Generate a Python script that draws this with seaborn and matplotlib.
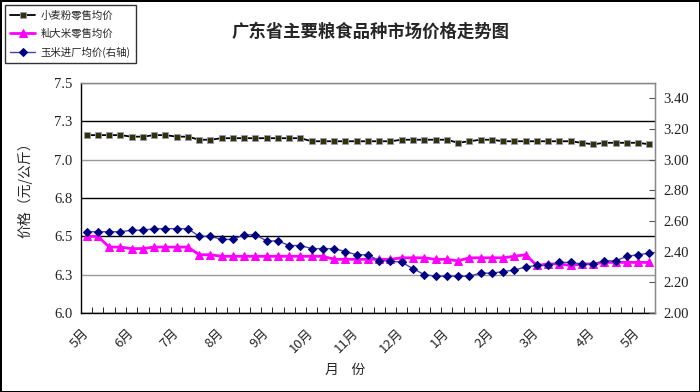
import matplotlib
matplotlib.use('Agg')
import numpy as np
import pandas as pd
import matplotlib.pyplot as plt
import seaborn as sns
from matplotlib.transforms import ScaledTranslation

# 周度价格数据（共51周）
weeks = list(range(51))
flour = [7.16, 7.16, 7.16, 7.16, 7.15, 7.15, 7.16, 7.16, 7.15, 7.15,
         7.13, 7.13, 7.14, 7.14, 7.14, 7.14, 7.14, 7.14, 7.14, 7.14,
         7.12, 7.12, 7.12, 7.12, 7.12, 7.12, 7.12, 7.12, 7.13, 7.13,
         7.13, 7.13, 7.13, 7.11, 7.12, 7.13, 7.13, 7.12, 7.12, 7.12,
         7.12, 7.12, 7.12, 7.12, 7.11, 7.10, 7.11, 7.11, 7.11, 7.11,
         7.10]
rice = [6.50, 6.50, 6.43, 6.43, 6.42, 6.42, 6.43, 6.43, 6.43, 6.43,
        6.38, 6.38, 6.37, 6.37, 6.37, 6.37, 6.37, 6.37, 6.37, 6.37,
        6.37, 6.37, 6.35, 6.35, 6.35, 6.35, 6.35, 6.35, 6.36, 6.36,
        6.36, 6.35, 6.35, 6.34, 6.36, 6.36, 6.36, 6.36, 6.37, 6.38,
        6.31, 6.32, 6.32, 6.31, 6.32, 6.32, 6.33, 6.33, 6.33, 6.33,
        6.33]
corn = [2.53, 2.53, 2.53, 2.53, 2.54, 2.54, 2.55, 2.55, 2.55, 2.55,
        2.50, 2.50, 2.48, 2.48, 2.51, 2.51, 2.47, 2.47, 2.44, 2.44,
        2.42, 2.42, 2.42, 2.40, 2.38, 2.38, 2.34, 2.34, 2.33, 2.29,
        2.25, 2.24, 2.24, 2.24, 2.24, 2.26, 2.26, 2.27, 2.28, 2.30,
        2.31, 2.31, 2.33, 2.33, 2.32, 2.32, 2.34, 2.34, 2.37, 2.38,
        2.39]

month_pos = [0, 4, 8, 12, 16, 20, 24, 28, 32, 36, 40, 45, 49]
month_labels = ['5月', '6月', '7月', '8月', '9月', '10月', '11月', '12月',
                '1月', '2月', '3月', '4月', '5月']
left_ticks = [6.0, 6.25, 6.5, 6.75, 7.0, 7.25, 7.5]
left_tick_labels = ['6.0', '6.3', '6.5', '6.8', '7.0', '7.3', '7.5']
right_ticks = [2.0, 2.2, 2.4, 2.6, 2.8, 3.0, 3.2, 3.4]
right_tick_labels = ['2.00', '2.20', '2.40', '2.60', '2.80', '3.00', '3.20', '3.40']
series_names = ['小麦粉零售均价', '籼大米零售均价', '玉米进厂均价(右轴)']

df = pd.DataFrame({'week': weeks, 'flour': flour, 'rice': rice, 'corn': corn})

sns.set_style('white')
plt.rcParams['font.family'] = ['Noto Sans CJK SC', 'DejaVu Sans']

fig, ax = plt.subplots(figsize=(7, 3.92), dpi=100)
fig.subplots_adjust(left=0.1157, right=0.9357, bottom=0.2015, top=0.7883)
fig.patch.set_edgecolor('black')
fig.patch.set_linewidth(2)
ax2 = ax.twinx()

sns.lineplot(data=df, x='week', y='flour', ax=ax, color='black', lw=1.3,
             marker='s', markersize=4.5, markerfacecolor='#333300',
             markeredgecolor='#9999cc', markeredgewidth=0.6, legend=False)
sns.lineplot(data=df, x='week', y='rice', ax=ax, color='#ff00ff', lw=2,
             marker='^', markersize=5.5, markerfacecolor='#ff00ff',
             markeredgecolor='#ff00ff', legend=False)
sns.lineplot(data=df, x='week', y='corn', ax=ax2, color='#4444aa', lw=1.0,
             marker='D', markersize=4, markerfacecolor='#000080',
             markeredgecolor='#000080', legend=False)

ax.set_xlim(-0.5, 50.5)
ax.set_ylim(6.0, 7.5)
ax2.set_ylim(2.0, 3.5)

ax.set_yticks(left_ticks)
ax.set_yticklabels(left_tick_labels, fontfamily='Liberation Serif', fontsize=10.5, color='#222222')
ax2.set_yticks(right_ticks)
ax2.set_yticklabels(right_tick_labels, fontfamily='Liberation Serif', fontsize=10.5, color='#222222')

ax.yaxis.grid(True, lw=1)
grid_colors = ['black', '#999999', 'black', 'black', '#999999', 'black', '#999999']
for gl, c in zip(ax.get_ygridlines(), grid_colors):
    gl.set_color(c)
ax.xaxis.grid(False)

ax.set_xticks(month_pos)
ax.set_xticklabels(month_labels, rotation=45, ha='right', va='center',
                   rotation_mode='anchor', fontsize=9.5)
for lab in ax.get_xticklabels():
    lab.set_transform(lab.get_transform() + ScaledTranslation(-8 / 72, -2 / 72, fig.dpi_scale_trans))
ax.set_xticks(np.arange(0.5, 50.5, 1), minor=True)
ax.tick_params(axis='x', which='major', length=0, pad=13)
ax.tick_params(axis='x', which='minor', direction='in', length=4, color='black', bottom=True)
ax.tick_params(axis='y', length=0, pad=6)
ax2.tick_params(axis='y', direction='in', length=4, color='#555555', right=True, pad=6)

ax.set_xlabel('')
ax.set_ylabel('')
ax2.set_ylabel('')

for name in ['left', 'bottom']:
    ax.spines[name].set_color('black')
    ax.spines[name].set_linewidth(1)
for name in ['top', 'right']:
    ax.spines[name].set_color('#888888')
for name in ['left', 'bottom']:
    ax2.spines[name].set_visible(False)
for name in ['top', 'right']:
    ax2.spines[name].set_color('#888888')
    ax2.spines[name].set_linewidth(1)

fig.text(0.53, 0.918, '广东省主要粮食品种市场价格走势图', ha='center', va='center',
         fontsize=12.5, fontweight='bold')
fig.text(25 / 700, 1 - 187 / 392, '价格（元/公斤）', rotation=90, ha='center',
         va='center', fontsize=10)
fig.text(0.493, 1 - 370 / 392, '月    份', ha='center', va='center', fontsize=10)

handles = [ax.get_lines()[0], ax.get_lines()[1], ax2.get_lines()[0]]
leg = fig.legend(handles, series_names, loc='upper left',
                 bbox_to_anchor=(5 / 700, 1 - 5 / 392), bbox_transform=fig.transFigure,
                 frameon=True, fancybox=False, edgecolor='black', fontsize=7.5,
                 borderaxespad=0, handlelength=2.4, labelspacing=0.75, borderpad=0.5,
                 handletextpad=0.5)
leg.get_frame().set_linewidth(1)

fig.savefig('out.png', dpi=100)
